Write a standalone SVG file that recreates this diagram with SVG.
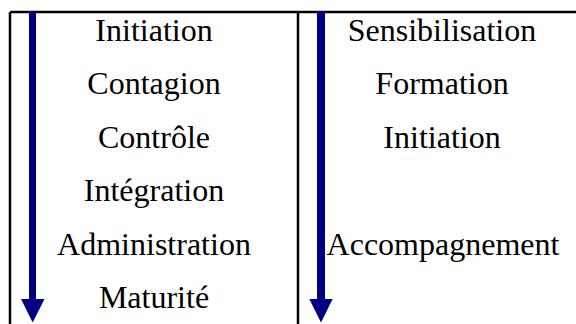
<svg xmlns="http://www.w3.org/2000/svg" width="576" height="324" viewBox="0 0 576 324">
<style>
.t{font-family:"Liberation Serif","Times New Roman",serif;font-size:32px;fill:#000;text-anchor:middle}
.b{stroke:#000;stroke-width:2.5;fill:none}
.s{fill:#000080}
</style>
<rect width="576" height="324" fill="#fff"/>
<g id="table">
<line class="b" x1="10" y1="12" x2="576" y2="12"/>
<line class="b" x1="10" y1="12" x2="10" y2="324"/>
<line class="b" x1="298" y1="12" x2="298" y2="324"/>
</g>
<g id="connectors">
<g id="arrow-left"><rect class="s" x="29" y="12" width="7" height="288"/><polygon class="s" points="21,299 44.5,299 32.7,322.5"/></g>
<g id="arrow-right"><rect class="s" x="317" y="12" width="8" height="288"/><polygon class="s" points="309.3,299 332.7,299 321,322.5"/></g>
</g>
<g id="left-column">
<text class="t" x="154" y="40.5">Initiation</text>
<text class="t" x="154" y="94">Contagion</text>
<text class="t" x="154" y="147.5">Contrôle</text>
<text class="t" x="154" y="201">Intégration</text>
<text class="t" x="154" y="254.5">Administration</text>
<text class="t" x="154" y="308">Maturité</text>
</g>
<g id="right-column">
<text class="t" x="442" y="40.5">Sensibilisation</text>
<text class="t" x="442" y="94">Formation</text>
<text class="t" x="442" y="147.5">Initiation</text>
<text class="t" x="443" y="254.5">Accompagnement</text>
</g>
</svg>
